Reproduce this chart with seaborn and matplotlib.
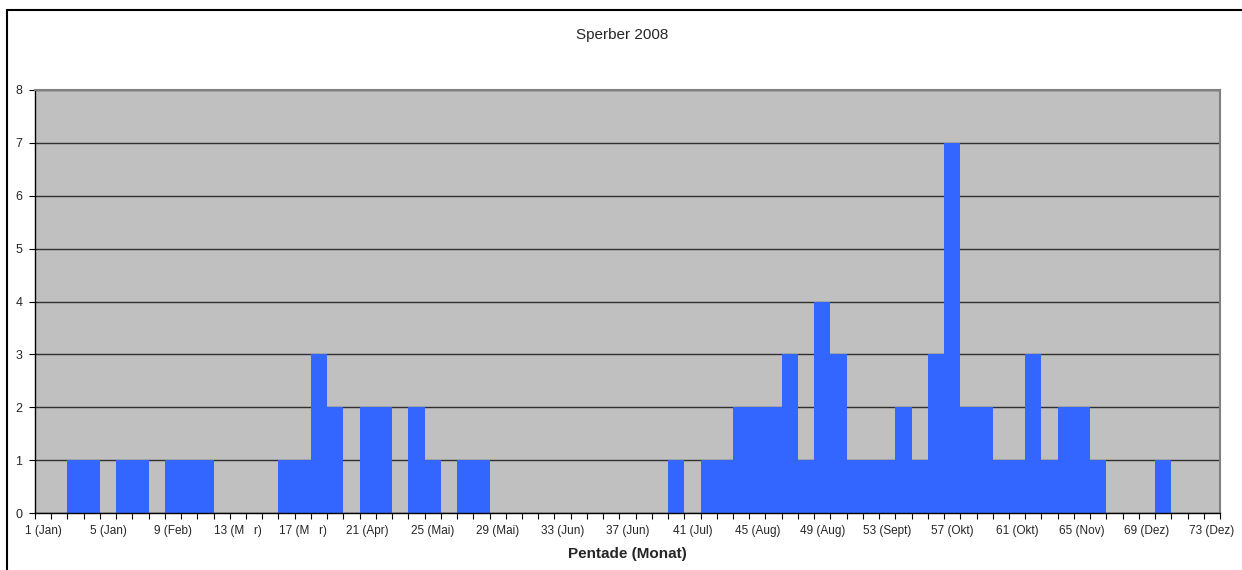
import matplotlib
matplotlib.use("Agg")
import matplotlib.pyplot as plt
import seaborn as sns
import pandas as pd
from matplotlib.lines import Line2D

# Data: Sperber 2008, count per pentade (1..73)
pentades = list(range(1, 74))
counts = [0, 0, 1, 1, 0, 1, 1, 0, 1, 1,
          1, 0, 0, 0, 0, 1, 1, 3, 2, 0,
          2, 2, 0, 2, 1, 0, 1, 1, 0, 0,
          0, 0, 0, 0, 0, 0, 0, 0, 0, 1,
          0, 1, 1, 2, 2, 2, 3, 1, 4, 3,
          1, 1, 1, 2, 1, 3, 7, 2, 2, 1,
          1, 3, 1, 2, 2, 1, 0, 0, 0, 1,
          0, 0, 0]
tick_labels = ["1 (Jan)", "5 (Jan)", "9 (Feb)", "13 (M   r)", "17 (M   r)",
               "21 (Apr)", "25 (Mai)", "29 (Mai)", "33 (Jun)", "37 (Jun)",
               "41 (Jul)", "45 (Aug)", "49 (Aug)", "53 (Sept)", "57 (Okt)",
               "61 (Okt)", "65 (Nov)", "69 (Dez)", "73 (Dez)"]
title = "Sperber 2008"
xlabel = "Pentade (Monat)"

sns.set_style("white")
plt.rcParams['font.family'] = ['Liberation Sans', 'DejaVu Sans']

df = pd.DataFrame({"pentade": [str(p) for p in pentades], "count": counts})

fig = plt.figure(figsize=(12.42, 5.70), dpi=100)
ax = fig.add_axes([35 / 1242, 1 - 513 / 570, (1220 - 35) / 1242, (513 - 90) / 570])
ax.set_facecolor("#C0C0C0")

sns.barplot(data=df, x="pentade", y="count", order=df["pentade"].tolist(),
            color="#3366FF", saturation=1, width=1.0, linewidth=0, ax=ax,
            zorder=3)

ax.set_xlim(-0.5, len(pentades) - 0.5)
ax.set_ylim(0, 8)

# y axis
ax.set_yticks(range(0, 9))
ax.set_yticklabels([str(v) for v in range(0, 9)], fontsize=9)
ax.yaxis.grid(True, color="#303030", linewidth=1.0, zorder=1)
ax.set_axisbelow(True)
ax.tick_params(axis="y", direction="out", length=4, width=0.8, color="black", pad=5, left=True)

# x axis: labels at every 4th category centre, tick marks at category boundaries
ax.set_xticks(list(range(0, len(pentades), 4)))
ax.set_xticklabels(tick_labels, fontsize=8.5)
ax.set_xticks([i - 0.5 for i in range(len(pentades) + 1)], minor=True)
ax.tick_params(axis="x", which="major", length=0, pad=8.5)
ax.tick_params(axis="x", which="minor", direction="out", length=4, width=0.8, color="black", bottom=True)
ax.xaxis.grid(False)

ax.set_xlabel(xlabel, fontsize=11, fontweight="bold", labelpad=7)
ax.set_ylabel("")

for side in ("left", "bottom"):
    ax.spines[side].set_color("black")
    ax.spines[side].set_linewidth(1.0)
for side in ("top", "right"):
    ax.spines[side].set_color("#808080")
    ax.spines[side].set_linewidth(1.5)
    ax.spines[side].set_visible(True)
for s in ax.spines.values():
    s.set_zorder(5)

fig.text(622 / 1242, 1 - 35 / 570, title, ha="center", va="center", fontsize=11)

# outer chart frame (left and top edges visible)
fig.add_artist(Line2D([7 / 1242, 7 / 1242], [0, 1 - 10 / 570], color="black", linewidth=1.5,
                      transform=fig.transFigure))
fig.add_artist(Line2D([7 / 1242, 1.0], [1 - 10 / 570, 1 - 10 / 570], color="black", linewidth=1.5,
                      transform=fig.transFigure))

fig.savefig("out.png", dpi=100)
